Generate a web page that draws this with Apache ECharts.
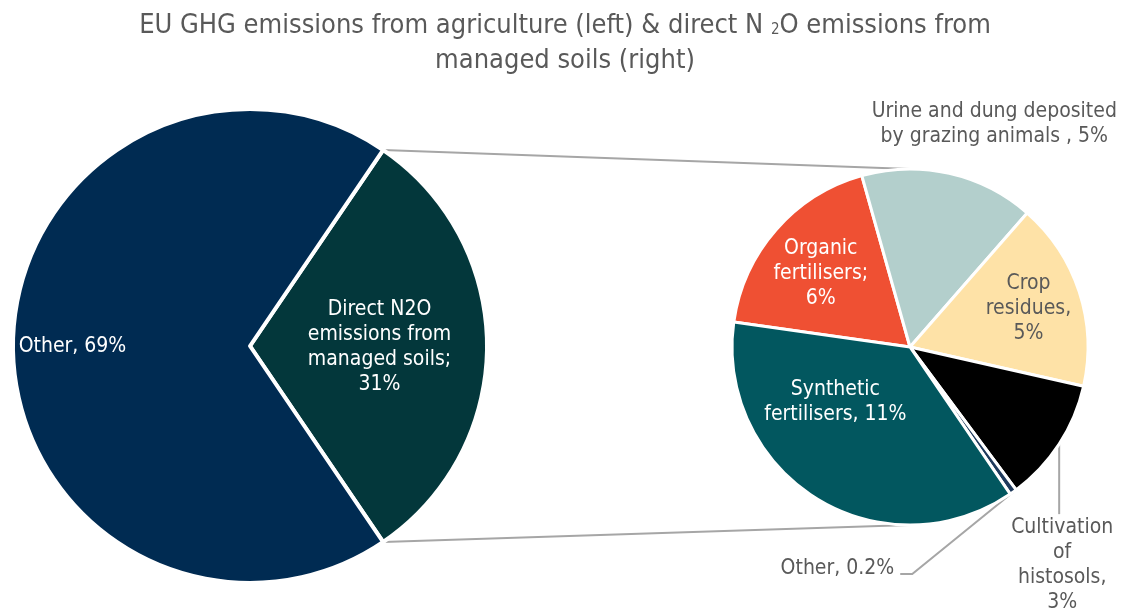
<!DOCTYPE html>
<html><head><meta charset="utf-8">
<script src="https://cdn.jsdelivr.net/npm/echarts@6/dist/echarts.min.js"></script>
<style>html,body{margin:0;padding:0;background:#fff}#c{width:1130px;height:612px}</style>
</head><body><div id="c"></div>
<script>
// ---- data ----
const leftCategories = ['Direct N2O emissions from managed soils', 'Other'];
const leftValues = [31, 69];
const leftLabels = ['Direct N2O\nemissions from\nmanaged soils;\n31%', 'Other, 69%'];

const rightCategories = ['Organic fertilisers', 'Urine and dung deposited by grazing animals', 'Crop residues', 'Cultivation of histosols', 'Other', 'Synthetic fertilisers'];
const rightValues = [5.7, 4.9, 5.3, 3.5, 0.2, 11.4];
const rightLabels = ['Organic\nfertilisers;\n6%', 'Urine and dung deposited\nby grazing animals , 5%', 'Crop\nresidues,\n5%', 'Cultivation\nof\nhistosols,\n3%', 'Other, 0.2%', 'Synthetic\nfertilisers, 11%'];

// ---- styles / layout ----
const FONT = '"DejaVu Sans Condensed", "DejaVu Sans", sans-serif';
const GREY = '#595959';
const LINE = '#a6a6a6';
const leftColors = ['#03373b', '#002b52'];
const rightColors = ['#ef5033', '#b3cfcc', '#fee2a7', '#000000', '#1f3a5c', '#02575f'];
const rightTextColors = ['#fff', GREY, GREY, GREY, GREY, '#fff'];
const rightOutside = [false, true, false, true, true, false];
const L = { cx: 250, cy: 346, r: 237 };
const R = { cx: 910, cy: 347, r: 178, start: 171.9 };

const leftTotal = leftValues.reduce((a, b) => a + b, 0);
const leftStart = leftValues[0] / leftTotal * 360 / 2;

const rad = leftStart * Math.PI / 180;
const pTop = [L.cx + L.r * Math.cos(rad), L.cy - L.r * Math.sin(rad)];
const pBot = [L.cx + L.r * Math.cos(rad), L.cy + L.r * Math.sin(rad)];

const chart = echarts.init(document.getElementById('c'), null, { renderer: 'canvas' });

const labelBase = { fontFamily: FONT, fontSize: 21, lineHeight: 25 };

chart.setOption({
  animation: false,
  backgroundColor: '#fff',
  title: {
    left: 'center', top: 3,
    text: 'EU GHG emissions from agriculture (left) & direct N {s|2}O emissions from\nmanaged soils (right)',
    textStyle: {
      fontFamily: FONT, fontSize: 27, fontWeight: 'normal', color: GREY, lineHeight: 35, align: 'center',
      rich: { s: { fontFamily: FONT, fontSize: 15, color: GREY, verticalAlign: 'bottom', lineHeight: 20, padding: [0, 0, 5, 0] } }
    }
  },
  graphic: [
    { type: 'line', z: 0, shape: { x1: pTop[0], y1: pTop[1], x2: R.cx, y2: R.cy - R.r }, style: { stroke: LINE, lineWidth: 2 } },
    { type: 'line', z: 0, shape: { x1: pBot[0], y1: pBot[1], x2: R.cx, y2: R.cy + R.r }, style: { stroke: LINE, lineWidth: 2 } }
  ],
  series: [
    {
      type: 'pie', z: 3,
      center: [L.cx, L.cy], radius: [0, L.r],
      startAngle: leftStart, clockwise: true,
      avoidLabelOverlap: false,
      itemStyle: { borderColor: '#fff', borderWidth: 4 },
      label: Object.assign({ position: 'inside', color: '#fff', align: 'center' }, labelBase),
      labelLine: { show: false },
      emphasis: { disabled: true },
      data: leftCategories.map((c, i) => ({
        name: c, value: leftValues[i],
        itemStyle: { color: leftColors[i] },
        label: { formatter: leftLabels[i] }
      })),
      labelLayout: function (p) {
        const adj = [[8, 1], [-56, 1]][p.dataIndex];
        return { dx: adj[0], dy: adj[1] };
      }
    },
    {
      type: 'pie', z: 3,
      center: [R.cx, R.cy], radius: [0, R.r],
      startAngle: R.start, clockwise: true,
      avoidLabelOverlap: false,
      itemStyle: { borderColor: '#fff', borderWidth: 3 },
      label: Object.assign({ align: 'center' }, labelBase),
      labelLine: { show: true, length: 20, length2: 10, lineStyle: { color: LINE, width: 2 } },
      emphasis: { disabled: true },
      data: rightCategories.map((c, i) => ({
        name: c, value: rightValues[i],
        itemStyle: { color: rightColors[i] },
        label: { formatter: rightLabels[i], position: rightOutside[i] ? 'outside' : 'inside', color: rightTextColors[i] },
        labelLine: { show: i === 3 || i === 4 }
      })),
      labelLayout: function (p) {
        const i = p.dataIndex;
        const inAdj = { 0: [-20, -13], 2: [31, -10], 5: [-26, -23] };
        if (inAdj[i]) return { dx: inAdj[i][0], dy: inAdj[i][1] };
        const a = p.labelLinePoints ? p.labelLinePoints[0] : [0, 0];
        if (i === 1) {
          return { x: a[0] + 45, y: a[1] - 49, align: 'center', verticalAlign: 'middle' };
        }
        if (i === 3) {
          const e = [a[0], a[1] + 70];
          return { x: e[0] + 3, y: e[1] + 1, align: 'center', verticalAlign: 'top', labelLinePoints: [a, e, e] };
        }
        if (i === 4) {
          const k = [a[0] - 101, a[1] + 82];
          const e = [k[0] - 12, k[1]];
          return { x: e[0] - 6, y: e[1] - 5, align: 'right', verticalAlign: 'middle', labelLinePoints: [a, k, e] };
        }
        return {};
      }
    }
  ]
});
</script>
</body></html>
